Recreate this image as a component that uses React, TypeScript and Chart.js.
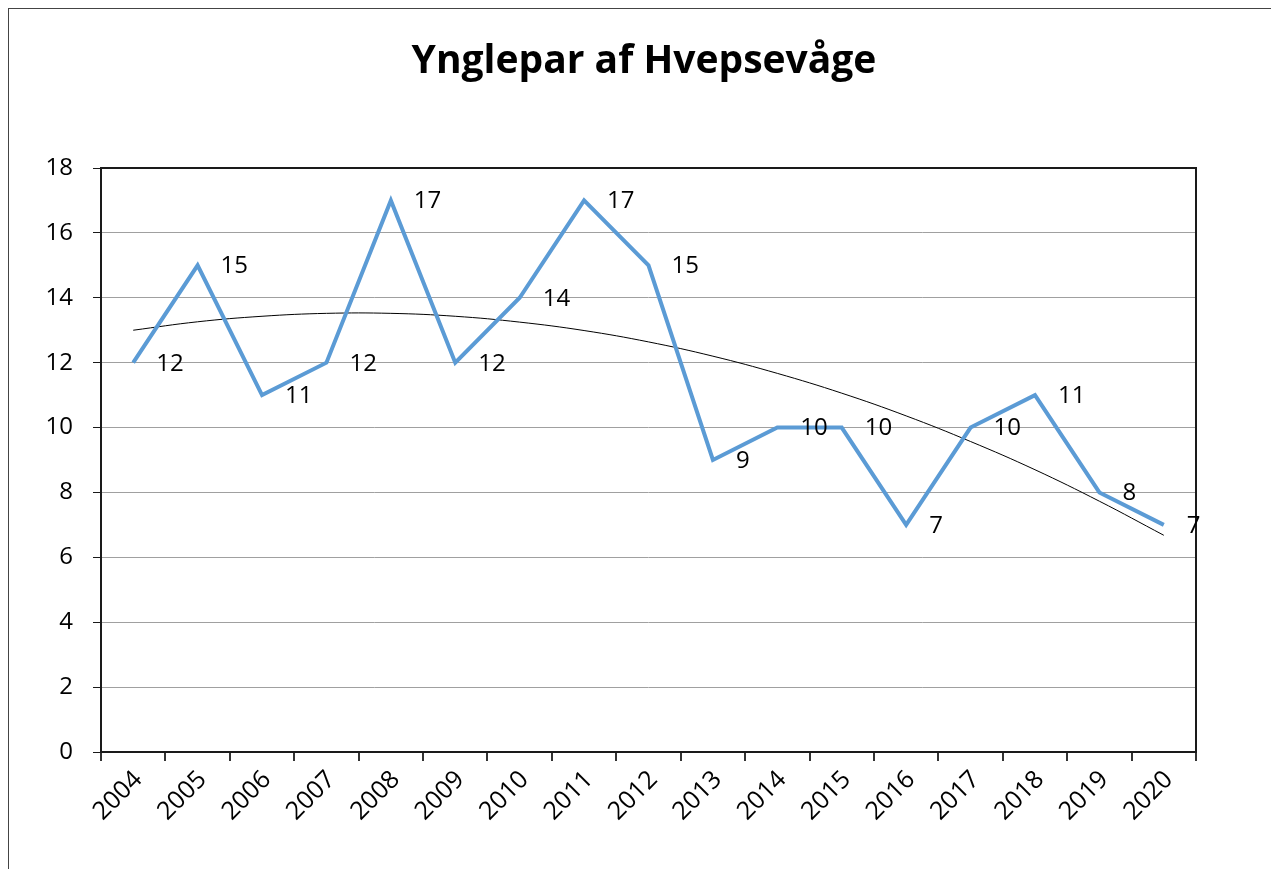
import React, { useEffect, useRef } from "react";
import { Chart, registerables } from "chart.js";

Chart.register(...registerables);

const titleText = "Ynglepar af Hvepsevåge";
const years = ["2004", "2005", "2006", "2007", "2008", "2009", "2010", "2011", "2012", "2013", "2014", "2015", "2016", "2017", "2018", "2019", "2020"];
const pairs = [12, 15, 11, 12, 17, 12, 14, 17, 15, 9, 10, 10, 7, 10, 11, 8, 7];
const trend = [13.0, 13.26, 13.43, 13.52, 13.52, 13.43, 13.25, 12.99, 12.64, 12.2, 11.67, 11.06, 10.36, 9.57, 8.7, 7.73, 6.68];
const yMin = 0;
const yMax = 18;
const yStep = 2;

const FONT = "'Open Sans', 'Liberation Sans', sans-serif";

const W = 1270;
const H = 860;

export default function App() {
  const ref = useRef<HTMLCanvasElement | null>(null);

  useEffect(() => {
    if (!ref.current) return;

    const titlePlugin = {
      id: "titleDraw",
      afterDraw(chart: any) {
        const ctx = chart.ctx;
        ctx.save();
        ctx.fillStyle = "#000";
        ctx.font = `bold 39px ${FONT}`;
        ctx.textAlign = "center";
        ctx.textBaseline = "middle";
        ctx.fillText(titleText, 635, 53);
        ctx.restore();
      },
    };

    const borderPlugin = {
      id: "plotBorder",
      beforeDatasetsDraw(chart: any) {
        const { ctx, chartArea } = chart;
        ctx.save();
        ctx.strokeStyle = "#1a1a1a";
        ctx.lineWidth = 2;
        ctx.strokeRect(chartArea.left, chartArea.top, chartArea.right - chartArea.left, chartArea.bottom - chartArea.top);
        ctx.restore();
      },
    };

    const labelPlugin = {
      id: "dataLabels",
      afterDatasetsDraw(chart: any) {
        const ctx = chart.ctx;
        const meta = chart.getDatasetMeta(0);
        ctx.save();
        ctx.fillStyle = "#000";
        ctx.font = `24px ${FONT}`;
        ctx.textAlign = "left";
        ctx.textBaseline = "middle";
        meta.data.forEach((pt: any, i: number) => {
          ctx.fillText(String(pairs[i]), pt.x + 23, pt.y + 1);
        });
        ctx.restore();
      },
    };

    const chart = new Chart(ref.current, {
      type: "line",
      data: {
        labels: years,
        datasets: [
          {
            label: "Ynglepar",
            data: pairs,
            borderColor: "#5b9bd5",
            borderWidth: 4,
            pointRadius: 0,
            tension: 0,
            order: 1,
          },
          {
            label: "Tendens",
            data: trend,
            borderColor: "#000",
            borderWidth: 1,
            pointRadius: 0,
            tension: 0.4,
            order: 2,
          },
        ],
      },
      options: {
        responsive: false,
        animation: false,
        devicePixelRatio: 1,
        layout: { padding: { top: 159, left: 0, right: 83, bottom: 0 } },
        plugins: {
          legend: { display: false },
          title: { display: false },
          tooltip: { enabled: false },
        },
        scales: {
          x: {
            offset: true,
            grid: {
              offset: true,
              drawOnChartArea: false,
              drawTicks: true,
              tickLength: 9,
              tickColor: "#333",
              lineWidth: 2,
            },
            border: { display: false },
            ticks: {
              color: "#000",
              font: { family: FONT, size: 25 },
              minRotation: 45,
              maxRotation: 45,
              padding: 4,
              labelOffset: 5,
              autoSkip: false,
            },
            afterFit(scale: any) {
              scale.height = 117;
            },
          },
          y: {
            min: yMin,
            max: yMax,
            grid: {
              color: "#a0a0a0",
              lineWidth: 1,
              drawTicks: true,
              tickLength: 8,
              tickColor: "#1a1a1a",
            },
            border: { display: false },
            ticks: {
              stepSize: yStep,
              color: "#000",
              font: { family: FONT, size: 24 },
              padding: 20,
            },
            afterFit(scale: any) {
              scale.width = 92;
            },
          },
        },
      },
      plugins: [borderPlugin, labelPlugin, titlePlugin],
    });

    return () => chart.destroy();
  }, []);

  return (
    <div
      style={{
        width: W + 1,
        height: H + 1,
        borderLeft: "1px solid #444",
        borderTop: "1px solid #444",
        boxSizing: "border-box",
        overflow: "hidden",
      }}
    >
      <canvas ref={ref} width={W} height={H} style={{ display: "block", width: W, height: H }} />
    </div>
  );
}
